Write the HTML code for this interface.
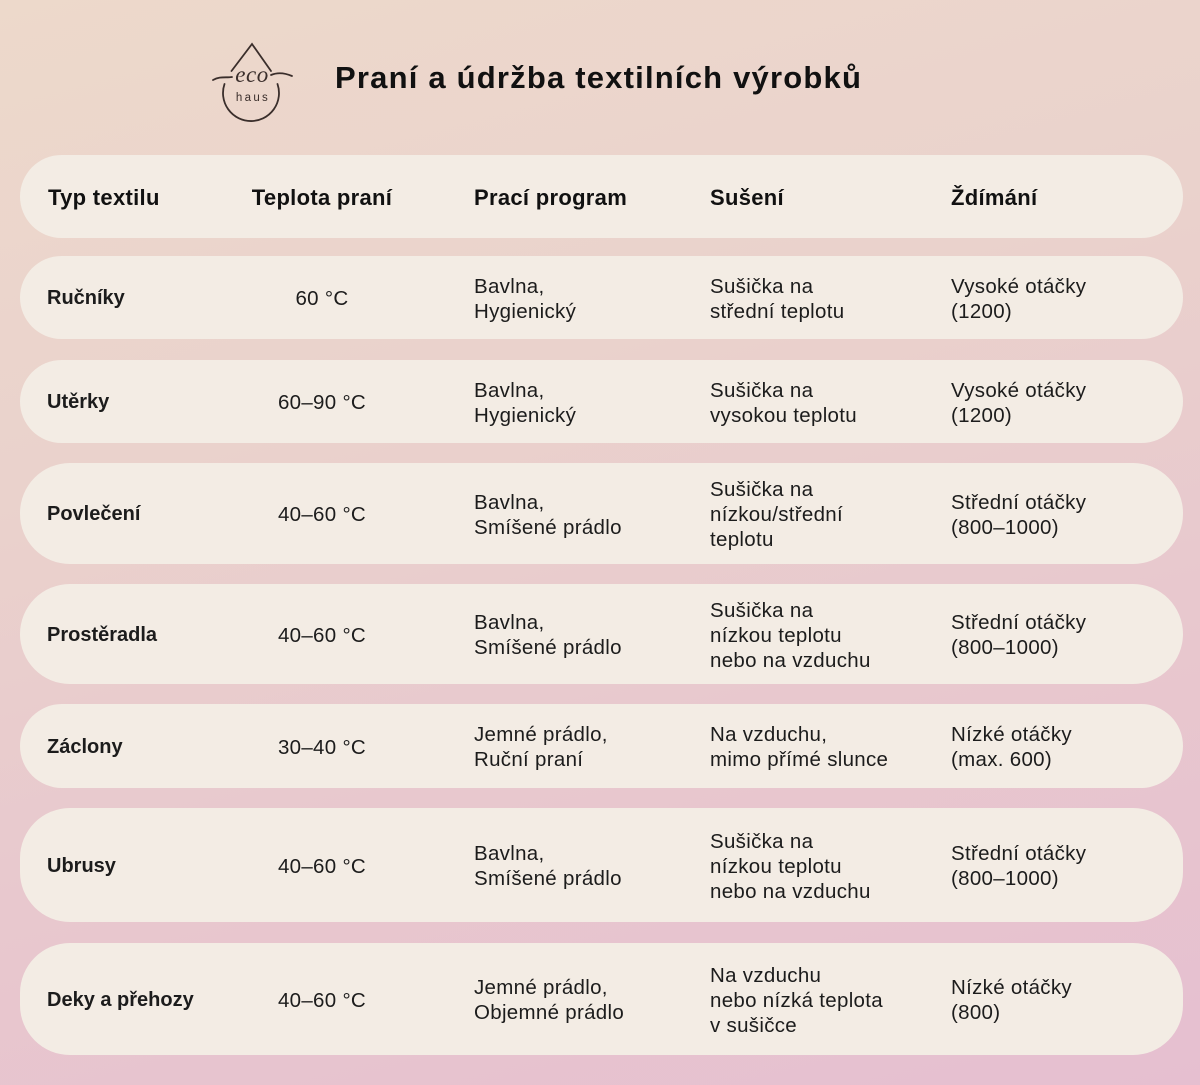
<!DOCTYPE html>
<html>
<head>
<meta charset="utf-8">
<style>
html,body{margin:0;padding:0;}
body{width:1200px;height:1085px;position:relative;overflow:hidden;
background:linear-gradient(165deg,#edd9cb 0%,#ead2cc 35%,#e8c8ce 65%,#e6bfd0 100%);
font-family:"Liberation Sans",sans-serif;color:#1c1c1c;}
.title{position:absolute;left:335px;top:59px;font-size:31px;font-weight:bold;letter-spacing:1.2px;color:#111;white-space:nowrap;line-height:38px;}
.row{position:absolute;left:20px;width:1163px;background:#f3ece4;border-radius:50px;}
.c{position:absolute;top:2px;bottom:0;display:flex;align-items:center;font-size:20.5px;letter-spacing:0.3px;line-height:25px;white-space:nowrap;}
.c1{left:27px;font-weight:bold;font-size:20px;letter-spacing:0;}
.c2{left:202px;width:200px;justify-content:center;text-align:center;}
.c3{left:454px;}
.c4{left:690px;}
.c5{left:931px;}
.hd .c{font-weight:bold;font-size:22px;letter-spacing:0.3px;color:#111;}
.hd .c1{left:28px;}
</style>
</head>
<body>
<svg width="1200" height="140" style="position:absolute;left:0;top:0" xmlns="http://www.w3.org/2000/svg">
  <g fill="none" stroke="#3a2e2b" stroke-width="1.8" stroke-linecap="round">
    <path d="M231.5 71 L252 44 L271 71"/>
    <path d="M224.5 84 A28 28 0 1 0 277.5 84"/>
    <path d="M213 80 C220 76 226 78 232 77"/>
    <path d="M271 75 C278 72 285 73 292 76"/>
  </g>
  <text x="252" y="82" text-anchor="middle" font-family="Liberation Serif, serif" font-style="italic" font-size="23" fill="#3a2e2b" letter-spacing="0.5">eco</text>
  <text x="253" y="101" text-anchor="middle" font-family="Liberation Sans, sans-serif" font-size="11.5" fill="#3a2e2b" letter-spacing="2.3">haus</text>
</svg>
<div class="title">Praní a údržba textilních výrobků</div>

<div class="row hd" style="top:155px;height:83px;">
  <div class="c c1">Typ textilu</div>
  <div class="c c2">Teplota praní</div>
  <div class="c c3">Prací program</div>
  <div class="c c4">Sušení</div>
  <div class="c c5">Ždímání</div>
</div>

<div class="row" style="top:256px;height:83px;">
  <div class="c c1">Ručníky</div>
  <div class="c c2">60 °C</div>
  <div class="c c3">Bavlna,<br>Hygienický</div>
  <div class="c c4">Sušička na<br>střední teplotu</div>
  <div class="c c5">Vysoké otáčky<br>(1200)</div>
</div>

<div class="row" style="top:360px;height:83px;">
  <div class="c c1">Utěrky</div>
  <div class="c c2">60–90 °C</div>
  <div class="c c3">Bavlna,<br>Hygienický</div>
  <div class="c c4">Sušička na<br>vysokou teplotu</div>
  <div class="c c5">Vysoké otáčky<br>(1200)</div>
</div>

<div class="row" style="top:463px;height:101px;">
  <div class="c c1">Povlečení</div>
  <div class="c c2">40–60 °C</div>
  <div class="c c3">Bavlna,<br>Smíšené prádlo</div>
  <div class="c c4">Sušička na<br>nízkou/střední<br>teplotu</div>
  <div class="c c5">Střední otáčky<br>(800–1000)</div>
</div>

<div class="row" style="top:584px;height:100px;">
  <div class="c c1">Prostěradla</div>
  <div class="c c2">40–60 °C</div>
  <div class="c c3">Bavlna,<br>Smíšené prádlo</div>
  <div class="c c4">Sušička na<br>nízkou teplotu<br>nebo na vzduchu</div>
  <div class="c c5">Střední otáčky<br>(800–1000)</div>
</div>

<div class="row" style="top:704px;height:84px;">
  <div class="c c1">Záclony</div>
  <div class="c c2">30–40 °C</div>
  <div class="c c3">Jemné prádlo,<br>Ruční praní</div>
  <div class="c c4">Na vzduchu,<br>mimo přímé slunce</div>
  <div class="c c5">Nízké otáčky<br>(max. 600)</div>
</div>

<div class="row" style="top:808px;height:114px;">
  <div class="c c1">Ubrusy</div>
  <div class="c c2">40–60 °C</div>
  <div class="c c3">Bavlna,<br>Smíšené prádlo</div>
  <div class="c c4">Sušička na<br>nízkou teplotu<br>nebo na vzduchu</div>
  <div class="c c5">Střední otáčky<br>(800–1000)</div>
</div>

<div class="row" style="top:943px;height:112px;">
  <div class="c c1">Deky a přehozy</div>
  <div class="c c2">40–60 °C</div>
  <div class="c c3">Jemné prádlo,<br>Objemné prádlo</div>
  <div class="c c4">Na vzduchu<br>nebo nízká teplota<br>v sušičce</div>
  <div class="c c5">Nízké otáčky<br>(800)</div>
</div>
</body>
</html>
